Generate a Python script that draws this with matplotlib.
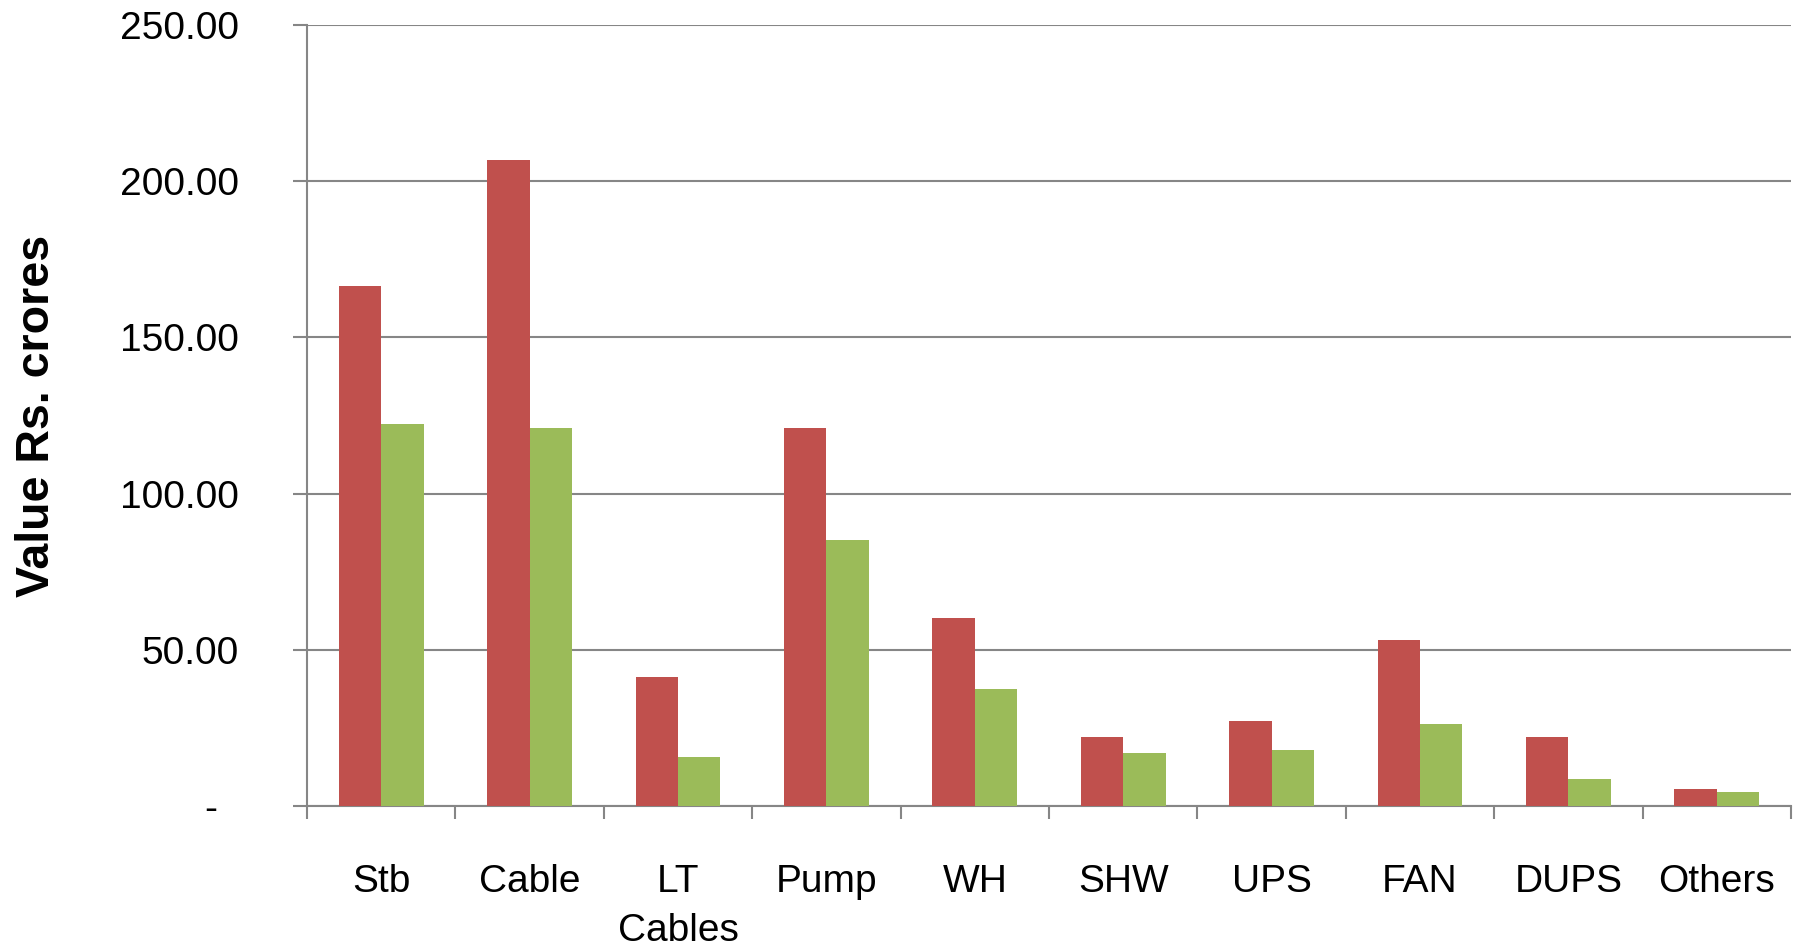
import numpy as np
import matplotlib
matplotlib.use("Agg")
import matplotlib.pyplot as plt

categories = ["Stb", "Cable", "LT\nCables", "Pump", "WH", "SHW", "UPS", "FAN", "DUPS", "Others"]
series_red = [166.5, 206.8, 41.3, 121.0, 60.2, 22.0, 27.2, 53.1, 22.0, 5.4]
series_green = [122.3, 121.0, 15.7, 85.0, 37.4, 17.0, 17.9, 26.2, 8.6, 4.4]
yticks = [0, 50, 100, 150, 200, 250]
ytick_labels = ["-  ", "50.00", "100.00", "150.00", "200.00", "250.00"]

RED = "#C0504D"
GREEN = "#9BBB59"
GRID = "#868686"

plt.rcParams["font.family"] = ["Liberation Sans", "DejaVu Sans"]

fig = plt.figure(figsize=(18.02, 9.5), dpi=100)
ax = fig.add_axes([0.1704, 0.1516, 0.8235, 0.8221])

x = np.arange(len(categories))
w = 0.2857
ax.bar(x - w / 2, series_red, width=w, color=RED, zorder=3)
ax.bar(x + w / 2, series_green, width=w, color=GREEN, zorder=3)

ax.set_xlim(-0.5, len(categories) - 0.5)
ax.set_ylim(0, 250)

ax.set_yticks(yticks)
ax.set_yticklabels(ytick_labels)
ax.yaxis.grid(True, color=GRID, linewidth=1.5, zorder=0)
ax.tick_params(axis="y", length=10, width=1.5, color=GRID, pad=39, labelsize=28)

ax.set_xticks(x)
ax.set_xticklabels(categories)
for lbl in ax.get_xticklabels():
    lbl.set_linespacing(1.45)
ax.set_xticks(np.arange(-0.5, len(categories)), minor=True)
ax.tick_params(axis="x", which="major", length=0, pad=42, labelsize=28)
ax.tick_params(axis="x", which="minor", length=9, width=1.5, color=GRID)

for s in ["top", "right"]:
    ax.spines[s].set_visible(False)
for s in ["left", "bottom"]:
    ax.spines[s].set_color(GRID)
    ax.spines[s].set_linewidth(1.5)

ax.set_ylabel("Value Rs. crores", fontsize=33.5, fontweight="bold")
ax.yaxis.set_label_coords(-0.167, 0.5)

fig.savefig("out.png", dpi=100)
